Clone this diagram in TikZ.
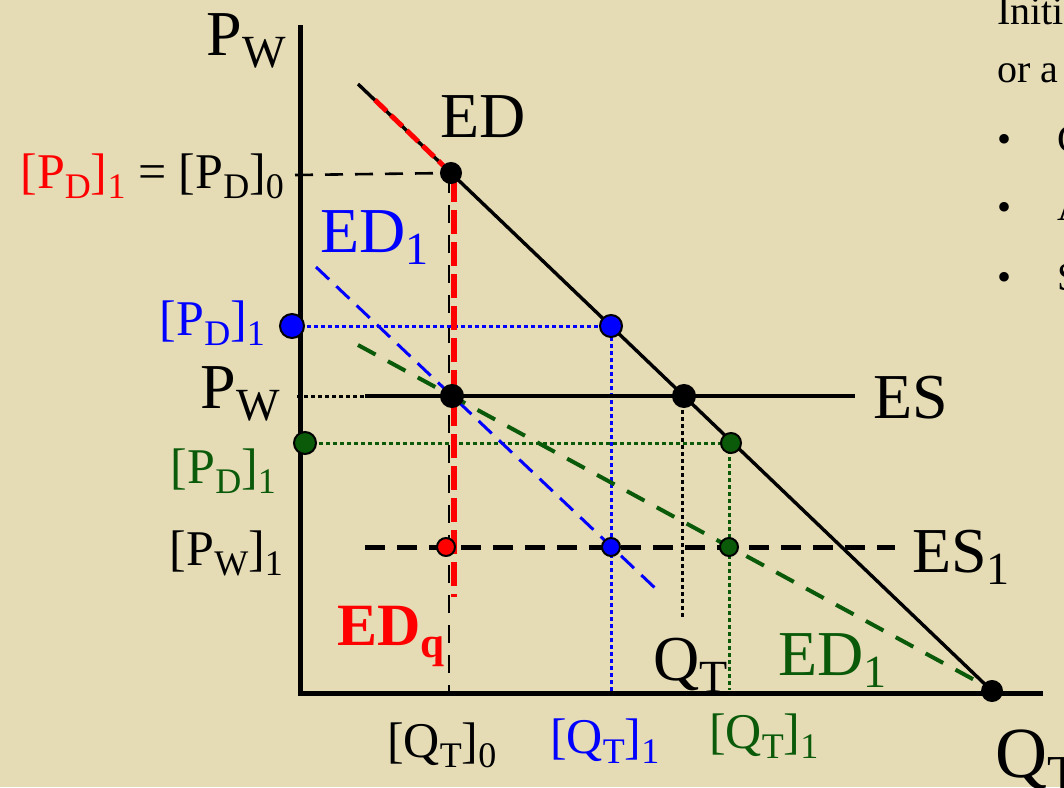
\documentclass[tikz,border=0pt]{standalone}
\usepackage{fontspec}
\setmainfont{Liberation Serif}
\usepackage{xcolor}
\usepackage{tikz}
\usetikzlibrary{positioning}
\definecolor{parchment}{HTML}{E5DCB6}
\definecolor{edgreen}{HTML}{0A5A0A}
\newcommand{\lsub}[1]{\raisebox{-0.2em}{\scalebox{0.72}{#1}}}

\tikzset{
  axisline/.style={line width=2.5pt},
  edline/.style={line width=1.7pt},
  esline/.style={line width=2pt},
  esdash/.style={line width=2.5pt, dash pattern=on 10pt off 6pt},
  guidedash/.style={line width=1.3pt, dash pattern=on 9pt off 6pt},
  reddash/.style={red, line width=3pt, dash pattern=on 12pt off 4pt},
  bluedash/.style={blue, line width=1.5pt, dash pattern=on 9pt off 5pt},
  greendash/.style={edgreen, line width=2pt, dash pattern=on 10pt off 7pt},
  guidedot/.style={line width=1.5pt, dash pattern=on 2pt off 1.5pt},
  dot/.style={circle, draw=black, line width=1pt, inner sep=0pt, minimum size=#1},
  dot/.default=10pt,
  huge/.style={font=\fontsize{36}{40}\selectfont},
  big/.style={font=\fontsize{32}{36}\selectfont},
  mid/.style={font=\fontsize{25}{30}\selectfont},
  side/.style={font=\fontsize{20}{24}\selectfont, anchor=base west}
}

\begin{document}
\begin{tikzpicture}[x=0.5pt, y=-0.5pt]
        \useasboundingbox (0,0) rectangle (1064,787);
        \clip (0,0) rectangle (1064,787);
        \fill[parchment] (0,0) rectangle (1064,787);

        % points of the diagram
        \coordinate (o) at (300,693);
        \coordinate (ytop) at (300,25);
        \coordinate (xend) at (1043,693);
        \coordinate (edA) at (358,84);
        \coordinate (edB) at (992,691);
        \coordinate (pd0) at (451,173);
        \coordinate (pdb) at (611,326);
        \coordinate (esq) at (684,396);
        \coordinate (pdg) at (731,443);
        \coordinate (q0w) at (452,396);
        \coordinate (esL) at (365,396);
        \coordinate (esR) at (855,396);
        \coordinate (es1L) at (365,547);
        \coordinate (es1R) at (895,547);

        % axes
        \draw[axisline] (ytop) -- (o) -- (xend);

        % guide lines
        \draw[guidedash] (295,175) -- (pd0);
        \draw[guidedash] (449,175) -- (449,693);
        \draw[guidedot] (297,396) -- (esL);
        \draw[guidedot] (682,396) -- (682,617);
        \draw[guidedot, blue] (300,326) -- (pdb) -- (611,693);
        \draw[guidedot, edgreen] (305,443) -- (pdg);
        \draw[guidedot, edgreen] (729,443) -- (729,690);

        % demand and supply curves
        \draw[bluedash] (316,267) -- (655,588);
        \draw[greendash] (358,345) -- (980,683);
        \draw[edline] (edA) -- (edB);
        \draw[reddash, line width=2.5pt, dash pattern=on 8pt off 3pt] (375,100) -- (pd0);
        \draw[reddash] (454,178) -- (454,597);
        \draw[esline] (esL) -- (esR);
        \draw[esdash] (es1L) -- (es1R);

        % dots
        \node[dot, fill=black] (d1) at (pd0) {};
        \node[dot=11pt, fill=black] (d2) at (q0w) {};
        \node[dot=11pt, fill=black] (d3) at (esq) {};
        \node[dot, fill=black] (d4) at (edB) {};
        \node[dot=12pt, fill=blue] (d5) at (292,326) {};
        \node[dot=11pt, fill=blue] (d6) at (pdb) {};
        \node[dot=9pt, fill=blue] (d7) at (611,547) {};
        \node[dot=11pt, fill=edgreen] (d8) at (305,443) {};
        \node[dot, fill=edgreen] (d9) at (pdg) {};
        \node[dot=9pt, fill=edgreen] (d10) at (729,547) {};
        \node[dot=9pt, fill=red] (d11) at (446,547) {};

        % axis labels
        \node[big, anchor=base east] (pwtop) at (293,55) {P\lsub{W}};
        \node[huge, anchor=base west] (qtbot) at (988,777) {Q\lsub{T}};

        % left labels
        \node[mid, anchor=base east] (pdlab) at (291,188)
            {\textcolor{red}{[P\lsub{D}]\lsub{1}} = [P\lsub{D}]\lsub{0}};
        \node[mid, blue, anchor=base east] (pdblue) at (272,335) {[P\lsub{D}]\lsub{1}};
        \node[big, anchor=base east] (pwlab) at (287,408) {P\lsub{W}};
        \node[mid, edgreen, anchor=base east] (pdgreen) at (283,483) {[P\lsub{D}]\lsub{1}};
        \node[mid, anchor=base east] (pw1) at (290,565) {[P\lsub{W}]\lsub{1}};

        % curve labels
        \node[big, anchor=base west] (edlab) at (433,137) {ED};
        \node[big, blue, anchor=base west] (ed1b) at (313,252) {ED\lsub{1}};
        \node[big, anchor=base west] (eslab) at (866,418) {ES};
        \node[big, anchor=base west] (es1lab) at (905,572) {ES\lsub{1}};
        \node[big, red, anchor=base west, font=\fontsize{30}{34}\selectfont\bfseries] (edq) at (330,645) {ED\lsub{q}};
        \node[big, anchor=base west] (qtmid) at (646,680) {Q\lsub{T}};
        \node[big, edgreen, anchor=base west] (ed1g) at (771,675) {ED\lsub{1}};

        % bottom labels
        \node[mid, anchor=base west] (qt0) at (380,757) {[Q\lsub{T}]\lsub{0}};
        \node[mid, blue, anchor=base west] (qt1b) at (543,753) {[Q\lsub{T}]\lsub{1}};
        \node[mid, edgreen, anchor=base west] (qt1g) at (702,748) {[Q\lsub{T}]\lsub{1}};

        % text at the right edge
        \node[side] (txt1) at (990,25) {Initi};
        \node[side] (txt2) at (990,82) {or a};
        \node[side] (b1) at (990,152) {•};
        \node[side] (b1t) at (1050,152) {C};
        \node[side] (b2) at (990,220) {•};
        \node[side] (b2t) at (1050,220) {A};
        \node[side] (b3) at (990,290) {•};
        \node[side] (b3t) at (1050,290) {S};
    \end{tikzpicture}
\end{document}
